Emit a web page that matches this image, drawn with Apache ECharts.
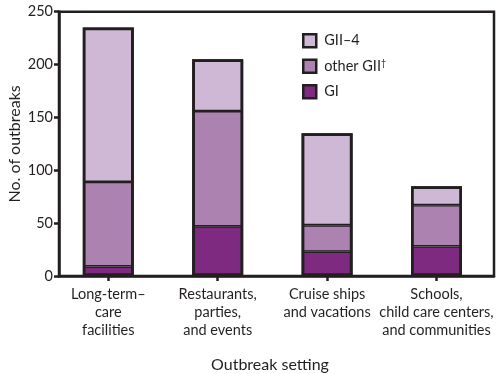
<!DOCTYPE html>
<html>
<head>
<meta charset="utf-8">
<script src="https://cdn.jsdelivr.net/npm/echarts@6/dist/echarts.min.js"></script>
<style>html,body{margin:0;padding:0;background:#fff}#c{width:503px;height:374px}</style>
</head>
<body>
<div id="c"></div>
<script>
const categories = ['Long-term–\ncare\nfacilities', 'Restaurants,\nparties,\nand events', 'Cruise ships\nand vacations', 'Schools,\nchild care centers,\nand communities'];
const seriesNames = ['GI', 'other GII', 'GII–4'];
const giValues = [9, 47, 23, 28];
const otherGiiValues = [80, 109, 25, 39];
const gii4Values = [146, 49, 87, 18];

const colors = {'GI': '#7d2a80', 'other GII': '#ac82b0', 'GII–4': '#cfb8d5'};
const ink = '#231f20';
const font = 'Lato';
const valuesByName = {'GI': giValues, 'other GII': otherGiiValues, 'GII–4': gii4Values};
const totals = giValues.map((v, i) => v + otherGiiValues[i] + gii4Values[i]);

const chart = echarts.init(document.getElementById('c'), null, {renderer: 'canvas'});
const segSeries = seriesNames.map(name => ({
  name: name,
  type: 'bar',
  stack: 'total',
  xAxisIndex: 0, yAxisIndex: 0,
  barWidth: 51,
  data: valuesByName[name],
  itemStyle: {color: colors[name], borderColor: ink, borderWidth: 1.4}
}));
const outlineSeries = {
  name: 'outline',
  type: 'bar',
  stack: 'outline',
  xAxisIndex: 0, yAxisIndex: 0,
  barWidth: 51, barGap: '-100%',
  silent: true,
  data: totals,
  itemStyle: {color: 'rgba(0,0,0,0)', borderColor: ink, borderWidth: 2.8}
};
chart.setOption({
  animation: false,
  backgroundColor: '#fff',
  grid: [
    {left: 53.6, right: 11.8, top: 11.7, bottom: 98, outerBoundsMode: 'none', containLabel: false},
    {left: 59, right: 9, top: 11.7, bottom: 98, outerBoundsMode: 'none', containLabel: false, show: true, borderColor: ink, borderWidth: 2.5, backgroundColor: 'transparent'}
  ],
  legend: {
    data: ['GII–4', 'other GII', 'GI'],
    orient: 'vertical',
    left: 302, top: 33, padding: 0,
    itemWidth: 13, itemHeight: 13, itemGap: 10,
    icon: 'rect',
    itemStyle: {borderColor: ink, borderWidth: 2.5},
    textStyle: {fontFamily: font, fontSize: 14.5, color: ink, padding: [0, 0, 0, 3],
      rich: {sup: {fontFamily: font, fontSize: 9, color: ink, verticalAlign: 'top', padding: [0, 0, 6, 0]}}},
    formatter: n => n === 'other GII' ? 'other GII{sup|†}' : n
  },
  xAxis: [
    {
      type: 'category', gridIndex: 0, data: categories,
      axisLine: {show: false},
      axisTick: {show: true, alignWithLabel: true, length: 5, lineStyle: {color: ink, width: 2.5}},
      axisLabel: {fontFamily: font, fontSize: 14.5, color: ink, lineHeight: 18, margin: 9, interval: 0}
    },
    {
      type: 'value', gridIndex: 1, min: 0, max: 1,
      splitLine: {show: false},
      axisLine: {show: true, lineStyle: {color: ink, width: 2.5}},
      axisTick: {show: false}, axisLabel: {show: false},
      name: 'Outbreak setting', nameLocation: 'middle', nameGap: 81, nameMoveOverlap: false,
      nameTextStyle: {fontFamily: font, fontSize: 16, color: ink, padding: [0, 13, 0, 0]}
    }
  ],
  yAxis: [
    {
      type: 'value', gridIndex: 0, min: 0, max: 250, interval: 50, show: false
    },
    {
      type: 'value', gridIndex: 1, min: 0, max: 250, interval: 50,
      splitLine: {show: false},
      axisLine: {show: true, lineStyle: {color: ink, width: 2.5}},
      axisTick: {show: true, length: 5, lineStyle: {color: ink, width: 2.5}},
      axisLabel: {fontFamily: font, fontSize: 14.5, color: ink, margin: 6},
      name: 'No. of outbreaks', nameLocation: 'middle', nameGap: 36, nameMoveOverlap: false,
      nameTextStyle: {fontFamily: font, fontSize: 16, color: ink}
    }
  ],
  series: segSeries.concat([outlineSeries])
});
</script>
</body>
</html>
